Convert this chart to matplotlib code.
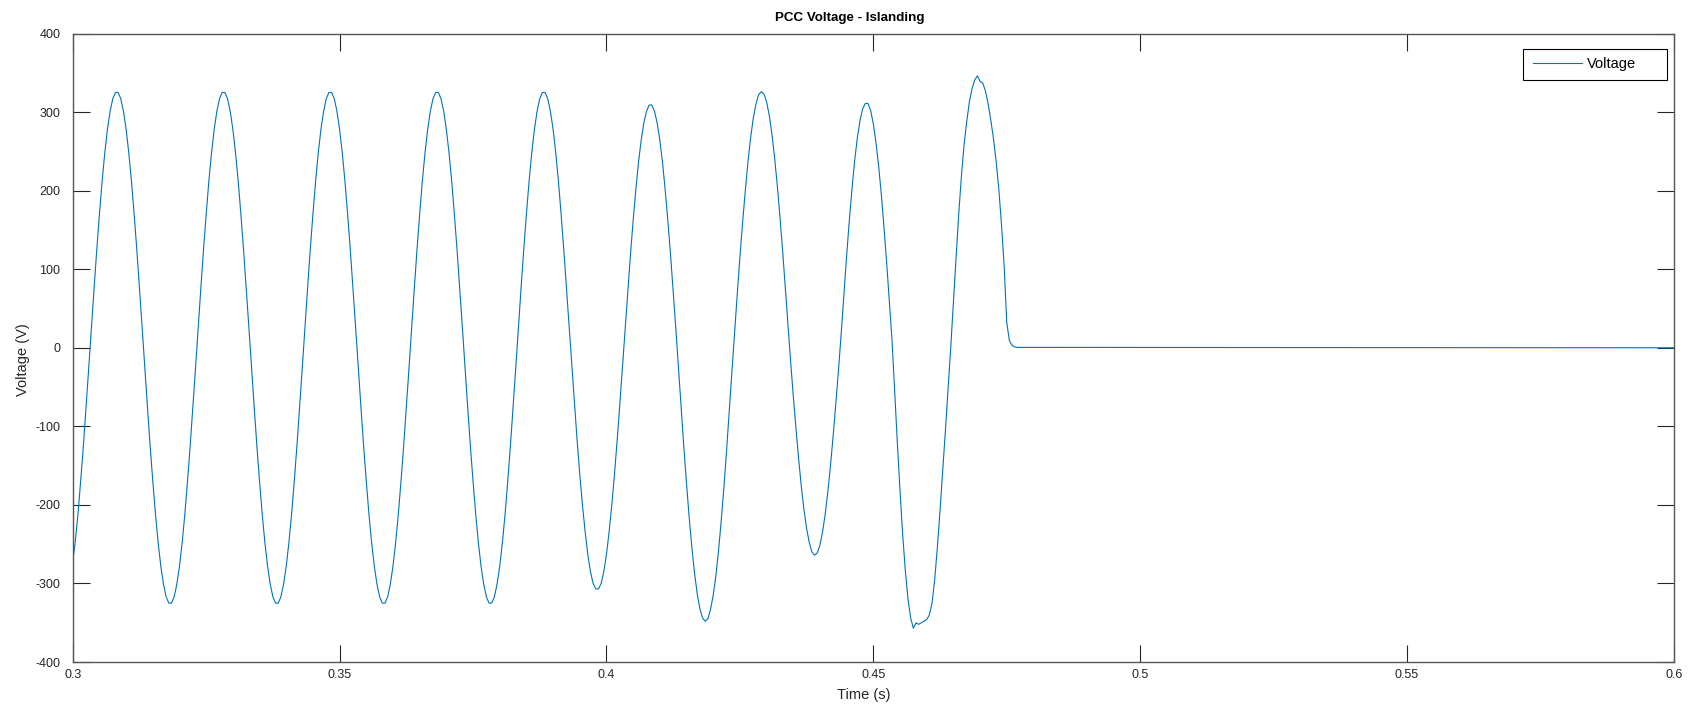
import numpy as np
import matplotlib
matplotlib.use("Agg")
import matplotlib.pyplot as plt
from matplotlib.patches import Rectangle

# PCC voltage, one sample every 0.5 ms from t = 0.3 s
t_start = 0.3
t_step = 0.0005
volts = [
    -272, -245, -210, -168, -124, -75, -25,
    26, 76, 125, 170, 212, 248, 278, 301, 317, 325, 325, 317, 301, 278, 248, 212, 170, 125, 76, 26,
    -26, -76, -125, -170, -212, -248, -278, -301, -317, -325, -325, -317, -301, -278, -248, -212, -170, -125, -76, -26,
    26, 76, 125, 170, 212, 248, 278, 301, 317, 325, 325, 317, 301, 278, 248, 212, 170, 125, 76, 26,
    -26, -76, -125, -170, -212, -248, -278, -301, -317, -325, -325, -317, -301, -278, -248, -212, -170, -125, -76, -26,
    26, 76, 125, 170, 212, 248, 278, 301, 317, 325, 325, 317, 301, 278, 248, 212, 170, 125, 76, 26,
    -26, -76, -125, -170, -212, -248, -278, -301, -317, -325, -325, -317, -301, -278, -248, -212, -170, -125, -76, -26,
    26, 76, 125, 170, 212, 248, 278, 301, 317, 325, 325, 317, 301, 278, 248, 212, 170, 125, 76, 26,
    -26, -76, -125, -170, -212, -248, -278, -301, -317, -325, -325, -317, -301, -278, -248, -212, -170, -125, -76, -26,
    26, 76, 125, 170, 212, 248, 278, 301, 317, 325, 325, 317, 301, 278, 248, 212, 170, 125, 76, 26,
    -24, -72, -118, -161, -200, -234, -263, -285, -300, -307, -307, -300, -285, -263, -234, -200, -161, -118, -72, -24,
    24, 72, 119, 162, 201, 236, 264, 286, 301, 309, 309, 301, 286, 264, 236, 201, 162, 119, 72, 24,
    -26, -77, -127, -173, -216, -254, -287, -313, -332, -344, -348, -345, -333, -315, -290, -258, -220, -178, -131, -82, -31,
    19, 68, 115, 159, 199, 236, 267, 292, 310, 322, 326, 323, 313, 296, 272, 242, 207, 167, 124, 77, 29,
    -17, -61, -102, -141, -176, -206, -230, -248, -260, -264, -261, -251, -234, -211, -182, -148, -110, -69, -26,
    20, 69, 117, 162, 202, 238, 267, 289, 304, 311, 311, 302, 285, 261, 231, 195, 153, 108, 60, 10,
    -55, -121, -182, -238, -284, -320, -344, -357, -350, -352, -350, -348, -346, -340, -325, -295, -254, -207, -157, -106, -54,
    0, 58, 114, 170, 218, 258, 288, 313, 330, 341, 346, 339, 337, 327, 311, 290, 267, 238, 203, 158,
    106, 32, 9, 3, 1, 0.5,
]
# after islanding the voltage stays at zero to the end of the run
t_end = 0.6
v_end = 0.0

x_ticks = [0.3, 0.35, 0.4, 0.45, 0.5, 0.55, 0.6]
x_tick_labels = ["0.3", "0.35", "0.4", "0.45", "0.5", "0.55", "0.6"]
y_ticks = [-400, -300, -200, -100, 0, 100, 200, 300, 400]

t = list(t_start + t_step * np.arange(len(volts))) + [t_end]
v = volts + [v_end]

plt.rcParams['font.family'] = ['Liberation Sans', 'DejaVu Sans']
plt.rcParams['axes.unicode_minus'] = False
axis_col = '#262626'

fig = plt.figure(figsize=(16.92, 7.07), dpi=100)
ax = fig.add_axes([0.043, 0.0636, 0.9463, 0.889])

ax.plot(t, v, color='#0072BD', linewidth=0.8, label='Voltage')

ax.set_xlim(0.3, 0.6)
ax.set_ylim(-400, 400)
ax.set_xticks(x_ticks)
ax.set_xticklabels(x_tick_labels)
ax.set_yticks(y_ticks)
ax.tick_params(direction='in', length=12, width=0.8, color=axis_col,
               labelsize=9, labelcolor=axis_col, top=True, right=True)
ax.tick_params(axis='y', pad=9)
ax.tick_params(axis='x', pad=5)
for s in ax.spines.values():
    s.set_color('#555555')
    s.set_linewidth(1.0)

ax.set_xlabel('Time (s)', fontsize=10.5, color=axis_col)
ax.xaxis.set_label_coords(0.4942, -0.041)
ax.set_ylabel('Voltage (V)', fontsize=10.5, color=axis_col)
ax.yaxis.set_label_coords(-0.027, 0.4805)
fig.text(0.502, 0.975, 'PCC Voltage - Islanding', ha='center', va='center',
         fontsize=9.6, fontweight='bold', color='black')

# MATLAB-like legend: wide box with extra room right of the text
ax.add_patch(Rectangle((0.9057, 0.926), 0.0899, 0.0493, transform=ax.transAxes,
                       facecolor='white', edgecolor='black', linewidth=0.8, zorder=5))
leg = ax.legend(loc='center left', bbox_to_anchor=(0.9118, 0.9515), frameon=False,
                fontsize=10.5, handlelength=3.4, handletextpad=0.35,
                borderpad=0, borderaxespad=0)
leg.set_zorder(6)

fig.savefig('out.png', dpi=100)
